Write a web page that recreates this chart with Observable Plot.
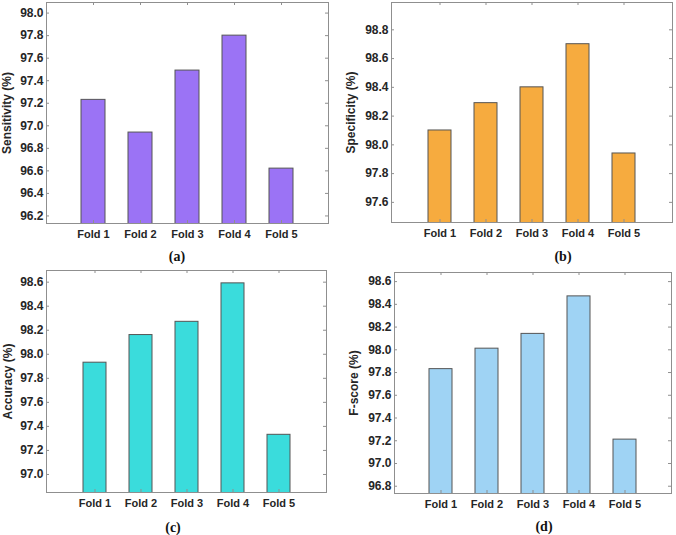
<!DOCTYPE html>
<html>
<head>
<meta charset="utf-8">
<script src="https://cdn.jsdelivr.net/npm/d3@7"></script>
<script src="https://cdn.jsdelivr.net/npm/@observablehq/plot@0.6"></script>
<style>
  body { margin: 0; background: #fff; }
  #root { position: relative; width: 676px; height: 535px; overflow: hidden; }
  .panel { position: absolute; }
  .cap { position: absolute; font-family: "Liberation Serif", "Times New Roman", serif; font-weight: bold; font-size: 14px; color: #111; transform: translate(-50%, -50%); white-space: nowrap; }
</style>
</head>
<body>
<div id="root"></div>
<script>
const folds = ["Fold 1", "Fold 2", "Fold 3", "Fold 4", "Fold 5"];
const sensitivity = [97.23, 96.94, 97.49, 97.80, 96.62];
const specificity = [98.10, 98.29, 98.40, 98.70, 97.94];
const accuracy = [97.93, 98.16, 98.27, 98.59, 97.33];
const fscore = [97.83, 98.01, 98.14, 98.47, 97.21];

const sensTicks = [96.2, 96.4, 96.6, 96.8, 97.0, 97.2, 97.4, 97.6, 97.8, 98.0];
const specTicks = [97.6, 97.8, 98.0, 98.2, 98.4, 98.6, 98.8];
const accTicks = [97.0, 97.2, 97.4, 97.6, 97.8, 98.0, 98.2, 98.4, 98.6];
const fTicks = [96.8, 97.0, 97.2, 97.4, 97.6, 97.8, 98.0, 98.2, 98.4, 98.6];

const panels = [
  {values: sensitivity, ticks: sensTicks, domain: [96.133, 98.094], label: "Sensitivity (%)", color: "#9b73f5", caption: "(a)",
   left: 0, top: 0, width: 338, height: 262, mL: 46, mR: 10, mT: 2, mB: 39, labelOffset: 44, capX: 177, capY: 257},
  {values: specificity, ticks: specTicks, domain: [97.46, 98.99], label: "Specificity (%)", color: "#f6ab3f", caption: "(b)",
   left: 338, top: 0, width: 338, height: 262, mL: 53, mR: 4, mT: 2, mB: 40, labelOffset: 45, capX: 563, capY: 257},
  {values: accuracy, ticks: accTicks, domain: [96.85, 98.697], label: "Accuracy (%)", color: "#3adcdc", caption: "(c)",
   left: 0, top: 268, width: 338, height: 262, mL: 46, mR: 12, mT: 2, mB: 38, labelOffset: 43, capX: 173, capY: 528},
  {values: fscore, ticks: fTicks, domain: [96.736, 98.68], label: "F-score (%)", color: "#9fd3f4", caption: "(d)",
   left: 338, top: 268, width: 338, height: 262, mL: 56, mR: 5, mT: 4, mB: 37, labelOffset: 45, capX: 544, capY: 527}
];

const root = document.getElementById("root");
const axisColor = "#8f8f8f";

for (const p of panels) {
  const data = folds.map((f, i) => ({fold: f, value: p.values[i]}));
  const fw = p.width - p.mL - p.mR;
  const fh = p.height - p.mT - p.mB;
  const chart = Plot.plot({
    width: p.width,
    height: p.height,
    marginLeft: p.mL,
    marginRight: p.mR,
    marginTop: p.mT,
    marginBottom: p.mB,
    style: {fontFamily: "'Liberation Sans', Arial, sans-serif", fontWeight: "bold", color: "#262626", background: "transparent"},
    x: {type: "band", domain: folds, paddingInner: 0.5, paddingOuter: 0.75, align: 0.5, axis: null},
    y: {domain: p.domain, axis: null},
    marks: [
      Plot.barY(data, {x: "fold", y: "value", fill: p.color, stroke: "#555", strokeWidth: 1, clip: true}),
      Plot.frame({stroke: axisColor}),
      Plot.tickY(p.ticks, {y: d => d, insetRight: fw - 3, stroke: axisColor}),
      Plot.tickY(p.ticks, {y: d => d, insetLeft: fw - 3, stroke: axisColor}),
      Plot.tickX(folds, {x: d => d, insetBottom: fh - 3, stroke: axisColor}),
      Plot.tickX(folds, {x: d => d, insetTop: fh - 3, stroke: axisColor}),
      Plot.axisY({ticks: p.ticks, tickSize: 0, tickPadding: 3, tickFormat: d3.format(".1f"), fontSize: 12,
        label: p.label, labelAnchor: "center", labelArrow: "none", labelOffset: p.labelOffset}),
      Plot.axisX({tickSize: 0, tickPadding: 7, fontSize: 11, label: null})
    ]
  });
  const wrap = document.createElement("div");
  wrap.className = "panel";
  wrap.style.left = p.left + "px";
  wrap.style.top = p.top + "px";
  wrap.appendChild(chart);
  root.appendChild(wrap);
  const cap = document.createElement("div");
  cap.className = "cap";
  cap.style.left = p.capX + "px";
  cap.style.top = p.capY + "px";
  cap.textContent = p.caption;
  root.appendChild(cap);
}
</script>
</body>
</html>
